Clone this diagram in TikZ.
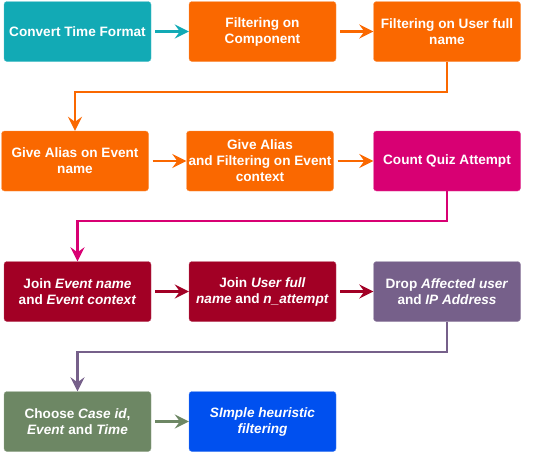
\documentclass[tikz,border=0pt]{standalone}
\usepackage{fontspec}
\setmainfont{Liberation Sans}
\usepackage{xcolor}
\usetikzlibrary{arrows.meta}

\definecolor{teal}{HTML}{12AAB5}
\definecolor{orange}{HTML}{FA6800}
\definecolor{magenta}{HTML}{D80073}
\definecolor{crimson}{HTML}{A20025}
\definecolor{violet}{HTML}{76608A}
\definecolor{olive}{HTML}{6D8764}
\definecolor{cobalt}{HTML}{0050EF}

\tikzset{
  stepbox/.style={fill=#1, draw=#1!70!white, rounded corners=3pt,
    minimum width=147pt, minimum height=60pt, inner sep=1pt,
    text=white, align=center, font=\fontsize{13.6}{16}\selectfont\bfseries},
  flow/.style={draw=#1, line width=2.2pt,
    -{Stealth[length=14pt,width=14pt,inset=5pt]}, shorten <=4pt}
}

\begin{document}
\begin{tikzpicture}[x=1pt, y=-1pt]
\useasboundingbox (0,0) rectangle (533,453);
% row 1
\node[stepbox=teal] (time) at (77.5,31.5) {Convert Time Format};
\node[stepbox=orange] (comp) at (262.5,31.5) {Filtering on\\Component};
\node[stepbox=orange] (user) at (447,31.5) {Filtering on User full\\name};
% row 2
\node[stepbox=orange] (alias) at (75,161) {Give Alias on Event\\name};
\node[stepbox=orange] (ctx) at (260,161) {Give Alias\\and Filtering on Event\\context};
\node[stepbox=magenta] (quiz) at (447,161) {Count Quiz Attempt};
% row 3
\node[stepbox=crimson] (jevent) at (77.5,291.5) {Join \textit{Event name}\\and \textit{Event context}};
\node[stepbox=crimson] (juser) at (262.5,291.5) {Join \textit{User full}\\\textit{name} and \textit{n\_attempt}};
\node[stepbox=violet] (drop) at (447,291.5) {Drop \textit{Affected user}\\and \textit{IP Address}};
% row 4
\node[stepbox=olive] (choose) at (77.5,421.5) {Choose \textit{Case id},\\\textit{Event} and \textit{Time}};
\node[stepbox=cobalt] (heur) at (262.5,421.5) {\textit{SImple heuristic}\\\textit{filtering}};

\draw[flow=teal] (time) -- (comp);
\draw[flow=orange] (comp) -- (user);
\draw[flow=orange, shorten <=0pt] (user.south) -- ++(0,30) -| (alias.north);
\draw[flow=orange] (alias) -- (ctx);
\draw[flow=orange] (ctx) -- (quiz);
\draw[flow=magenta, shorten <=0pt] (quiz.south) -- ++(0,30) -| (jevent.north);
\draw[flow=crimson] (jevent) -- (juser);
\draw[flow=crimson] (juser) -- (drop);
\draw[flow=violet, shorten <=0pt] (drop.south) -- ++(0,30) -| (choose.north);
\draw[flow=olive] (choose) -- (heur);
\end{tikzpicture}
\end{document}
